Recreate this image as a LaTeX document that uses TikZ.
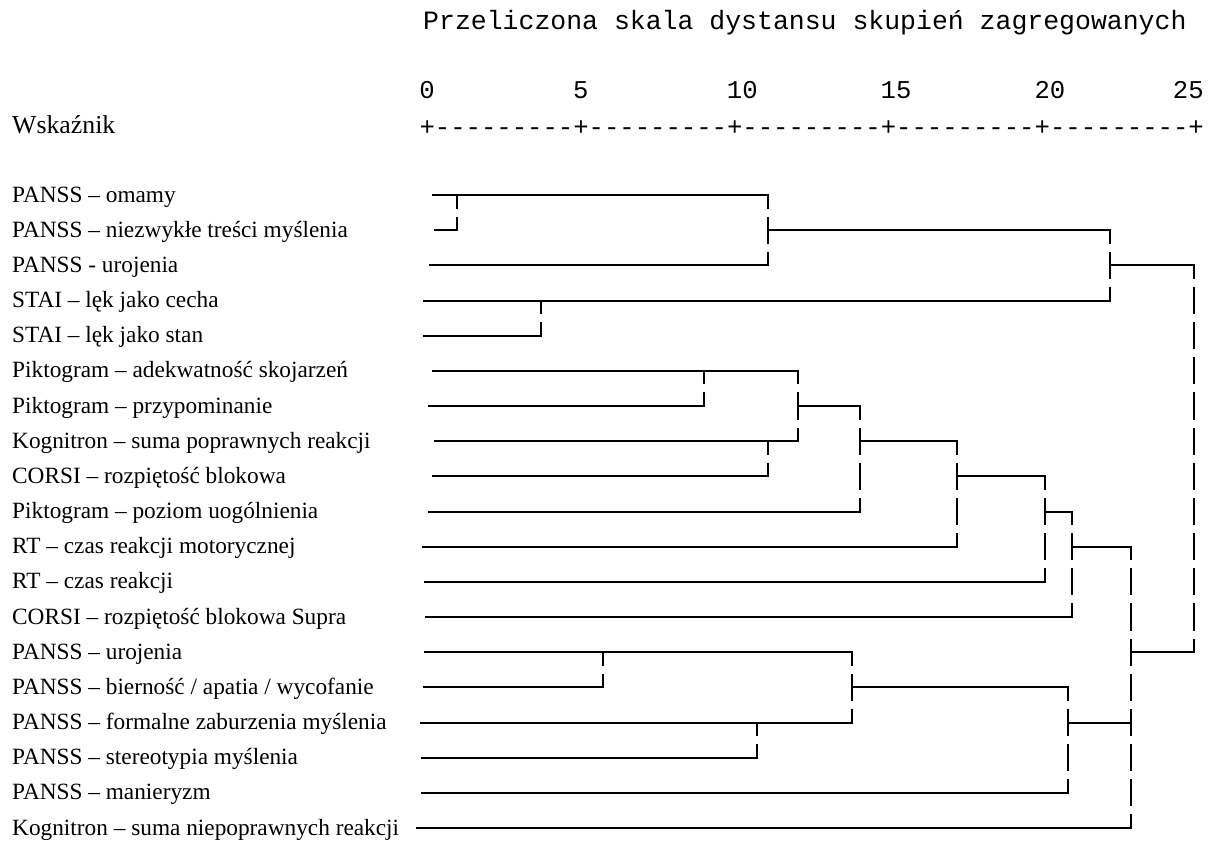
\documentclass[tikz,border=0pt]{standalone}
\usepackage{fontspec}
\setmainfont{Liberation Serif}
\newfontfamily\monof{Liberation Mono}
\begin{document}
\begin{tikzpicture}[x=1pt,y=-1pt,
  lab/.style={anchor=base west,inner sep=0pt,font=\fontsize{23.3}{28}\selectfont},
  mono/.style={anchor=base west,inner sep=0pt,font=\monof\fontsize{25.63}{30}\selectfont},
  num/.style={anchor=base,inner sep=0pt,font=\monof\fontsize{25.63}{30}\selectfont},
  hl/.style={line width=2pt,line cap=rect},
  vl/.style={line width=2pt,dash pattern=on 27.17pt off 8pt,dash phase=13.58pt}]
\useasboundingbox (0,0) rectangle (1229,843);
% header
\node[anchor=base west,inner sep=0pt,font=\monof\fontsize{26.5}{30}\selectfont] (title) at (423,30) {Przeliczona skala dystansu skupień zagregowanych};
\node[num] (n0) at (427,99) {0};
\node[num] (n5) at (580.8,99) {5};
\node[num] (n10) at (742.3,99) {10};
\node[num] (n15) at (896.1,99) {15};
\node[num] (n20) at (1049.9,99) {20};
\node[num] (n25) at (1188.3,99) {25};
\node[mono] (axis) at (419.3,135) {+---------+---------+---------+---------+---------+};
\node[anchor=base west,inner sep=0pt,font=\fontsize{25.8}{30}\selectfont] (wsk) at (12,133) {Wskaźnik};
% labels
\foreach \i/\t in {1/{PANSS – omamy},2/{PANSS – niezwykłe treści myślenia},3/{PANSS - urojenia},
  4/{STAI – lęk jako cecha},5/{STAI – lęk jako stan},6/{Piktogram – adekwatność skojarzeń},
  7/{Piktogram – przypominanie},8/{Kognitron – suma poprawnych reakcji},9/{CORSI – rozpiętość blokowa},
  10/{Piktogram – poziom uogólnienia},11/{RT – czas reakcji motorycznej},12/{RT – czas reakcji},
  13/{CORSI – rozpiętość blokowa Supra},14/{PANSS – urojenia},15/{PANSS – bierność / apatia / wycofanie},
  16/{PANSS – formalne zaburzenia myślenia},17/{PANSS – stereotypia myślenia},18/{PANSS – manieryzm},
  19/{Kognitron – suma niepoprawnych reakcji}}
  {\node[lab] (l\i) at (12,{195+(\i-1)*35.17+7}) {\t};}
% leaf starts
\foreach \i/\x in {1/433,2/435,3/430,4/424,5/424,6/433,7/429,8/435,9/433,10/429,
  11/423,12/425,13/426,14/425,15/424,16/421,17/422,18/422,19/417}
  {\coordinate (s\i) at (\x,{195+(\i-1)*35.17});}
% merge points
\foreach \n/\x/\r in {A/457/1,B/768/2,D/541/4,C/1110/3,E/704/6,F/768/8,G/798/7,H/860/8,
  I/957/9,J/1045/10,K/1072/11,L/603/14,M/757/16,N/852/15,O/1068/16,P/1131/14,R/1194/3}
  {\coordinate (m\n) at (\x,{195+(\r-1)*35.17});}
% horizontal connectors (child -> parent)
\foreach \c/\p in {s1/mA,s2/mA,mA/mB,s3/mB,s4/mD,s5/mD,mB/mC,mD/mC,mC/mR,
  s6/mE,s7/mE,s8/mF,s9/mF,mE/mG,mF/mG,mG/mH,s10/mH,mH/mI,s11/mI,mI/mJ,s12/mJ,
  mJ/mK,s13/mK,mK/mP,s14/mL,s15/mL,s16/mM,s17/mM,mL/mN,mM/mN,mN/mO,s18/mO,
  mO/mP,s19/mP,mP/mR}
  {\draw[hl] (\c) -- (\c -| \p);}
% vertical joins (merge, top child, bottom child)
\foreach \m/\a/\b in {mA/s1/s2,mB/mA/s3,mD/s4/s5,mC/mB/mD,mE/s6/s7,mF/s8/s9,mG/mE/mF,
  mH/mG/s10,mI/mH/s11,mJ/mI/s12,mK/mJ/s13,mL/s14/s15,mM/s16/s17,mN/mL/mM,mO/mN/s18,
  mP/mK/s19,mR/mC/mP}
  {\draw[vl] (\m |- \a) -- (\m |- \b);}
\end{tikzpicture}
\end{document}
